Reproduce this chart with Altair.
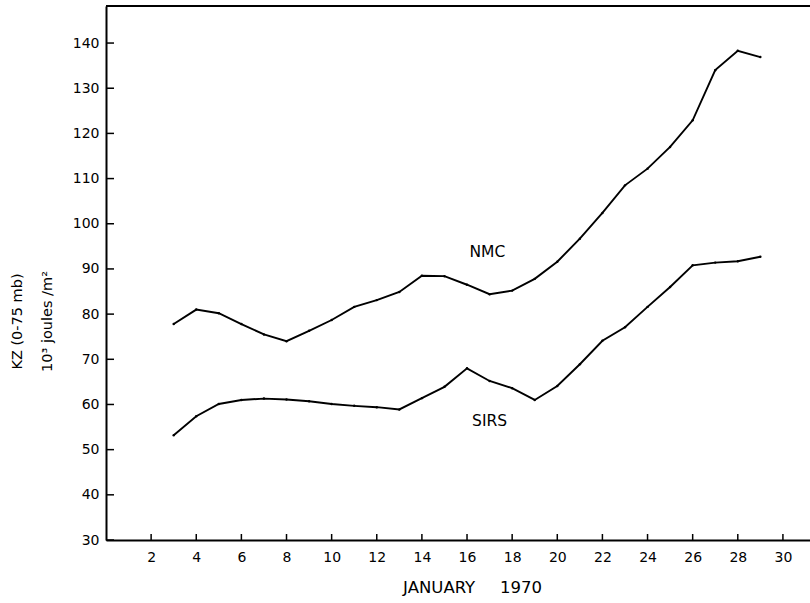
import altair as alt
import pandas as pd

# Daily values, January 1970
days = list(range(3, 30))
nmc = [77.8, 81.0, 80.2, 77.8, 75.5, 74.0, 76.3, 78.7, 81.6, 83.1, 84.9, 88.5, 88.4,
       86.5, 84.4, 85.2, 87.8, 91.6, 96.7, 102.4, 108.5, 112.2, 117.0, 122.9, 134.0,
       138.3, 136.9]
sirs = [53.2, 57.4, 60.1, 61.0, 61.3, 61.1, 60.7, 60.1, 59.7, 59.4, 58.9, 61.4, 63.9,
        68.0, 65.2, 63.6, 61.0, 64.1, 68.9, 74.1, 77.1, 81.6, 86.0, 90.8, 91.4, 91.7,
        92.7]

# Series labels and where they sit in data units
label_names = ["NMC", "SIRS"]
label_days = [16.9, 17.0]
label_vals = [93.7, 56.3]

x_ticks = list(range(2, 31, 2))
y_ticks = list(range(30, 141, 10))

W, H = 704, 534
FONT = "DejaVu Sans"

df = pd.DataFrame(
    {"day": days * 2, "kz": nmc + sirs, "series": ["NMC"] * len(days) + ["SIRS"] * len(days)}
)
labels = pd.DataFrame({"name": label_names, "day": label_days, "kz": label_vals})
xt = pd.DataFrame({"day": x_ticks})
yt = pd.DataFrame({"kz": y_ticks})

xs = alt.Scale(domain=[0, 31.2], nice=False, zero=False)
ys = alt.Scale(domain=[30, 148.2], nice=False, zero=False)

x_axis = alt.Axis(
    values=x_ticks, ticks=False, tickSize=0, grid=False,
    domainColor="black", domainWidth=2,
    labelFont=FONT, labelFontSize=14, labelColor="black", labelPadding=10,
    title="JANUARY\u2003\u20021970", titleFont=FONT, titleFontSize=16.5, titleFontWeight="normal",
    titleColor="black", titleX=366, titleY=47, titleBaseline="middle", titleAlign="center",
)
y_axis = alt.Axis(
    values=y_ticks, ticks=False, tickSize=0, grid=False,
    domainColor="black", domainWidth=2,
    labelFont=FONT, labelFontSize=14, labelColor="black", labelPadding=7,
    title=["KZ (0-75 mb)", "10³ joules /m²"], titleFont=FONT, titleFontSize=14.5,
    titleFontWeight="normal", titleColor="black", titleAngle=270,
    titleX=-89, titleY=315, titleAlign="center", titleBaseline="middle",
    titleLineHeight=30,
)

lines = alt.Chart(df).mark_line(color="black", strokeWidth=1.9).encode(
    x=alt.X("day:Q", scale=xs, axis=x_axis),
    y=alt.Y("kz:Q", scale=ys, axis=y_axis),
    detail="series:N",
)

dots = alt.Chart(df).mark_point(filled=True, color="black", size=6, opacity=1).encode(
    x=alt.X("day:Q", scale=xs),
    y=alt.Y("kz:Q", scale=ys),
)

text = alt.Chart(labels).mark_text(font=FONT, fontSize=15.5, color="black").encode(
    x=alt.X("day:Q", scale=xs),
    y=alt.Y("kz:Q", scale=ys),
    text="name:N",
)

# inward tick marks on both axes
xtick = alt.Chart(xt).mark_rule(color="black", strokeWidth=1.5).encode(
    x=alt.X("day:Q", scale=xs),
    y=alt.value(H),
    y2=alt.value(H - 6),
)
ytick = alt.Chart(yt).mark_rule(color="black", strokeWidth=1.5).encode(
    y=alt.Y("kz:Q", scale=ys),
    x=alt.value(0),
    x2=alt.value(8),
)

# top frame line
top = alt.Chart(pd.DataFrame({"v": [0]})).mark_rule(color="black", strokeWidth=2).encode(
    x=alt.value(0), x2=alt.value(W), y=alt.value(0)
)

chart = alt.layer(lines, dots, text, xtick, ytick, top).properties(
    width=W, height=H,
    autosize=alt.AutoSizeParams(type="none"),
    padding={"left": 106, "top": 6, "right": 0, "bottom": 63},
    background="white",
).configure_view(stroke=None)

chart.save("out.html", embed_options={"renderer": "svg", "actions": False})
